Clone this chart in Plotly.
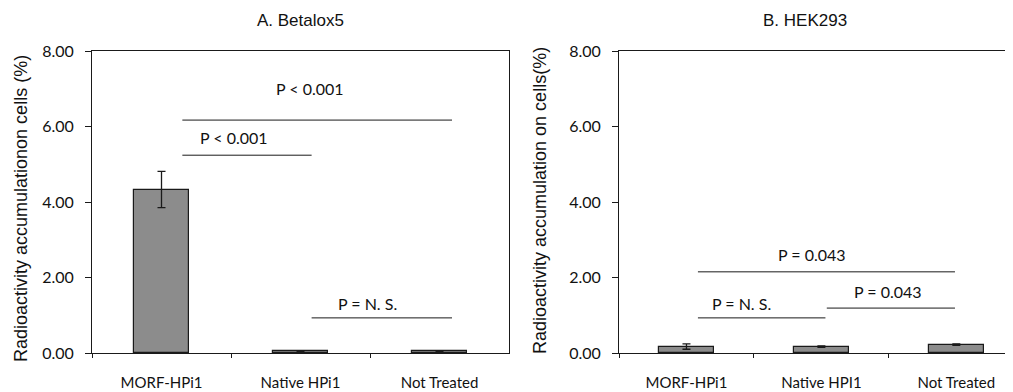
import plotly.graph_objects as go

# ---- data ----
categories_a = ["MORF-HPi1", "Native HPi1", "Not Treated"]
values_a = [4.33, 0.04, 0.04]
errors_a = [0.48, 0.01, 0.01]

categories_b = ["MORF-HPi1", "Native HPI1", "Not Treated"]
values_b = [0.17, 0.17, 0.22]
errors_b = [0.07, 0.02, 0.02]

y_ticks = [0, 2, 4, 6, 8]

# significance brackets: x0, x1 (category index), y, label, label x, label y
brackets_a_x0 = [0.15, 0.15, 1.08]
brackets_a_x1 = [2.09, 1.08, 2.09]
brackets_a_y = [6.17, 5.24, 0.93]
labels_a = ["P < 0.001", "P < 0.001", "P = N. S."]
labels_a_x = [1.07, 0.52, 1.48]
labels_a_y = [7.0, 5.7, 1.32]

brackets_b_x0 = [0.085, 0.085, 1.04]
brackets_b_x1 = [1.99, 1.03, 1.99]
brackets_b_y = [2.15, 0.93, 1.19]
labels_b = ["P = 0.043", "P = N. S.", "P = 0.043"]
labels_b_x = [0.93, 0.41, 1.49]
labels_b_y = [2.6, 1.32, 1.64]

BAR = "#8c8c8c"
LINE = "#1a1a1a"
CAL = "Lato, 'Open Sans', sans-serif"
ARI = "'Liberation Sans', Arial, sans-serif"

# the page body has an 8px margin; size the figure to fill the rest of the window
OFF = 8
W, H = 1013 - OFF, 392 - OFF


def px(x):
    return (x - OFF) / W


def py(y):
    return 1 - (y - OFF) / H


fig = go.Figure()
fig.add_trace(go.Bar(
    x=categories_a, y=values_a, width=0.40,
    marker=dict(color=BAR, line=dict(color=LINE, width=1.2)),
    error_y=dict(type="data", array=errors_a, color=LINE, thickness=1.3, width=4),
    xaxis="x", yaxis="y", showlegend=False,
))
fig.add_trace(go.Bar(
    x=categories_b, y=values_b, width=0.41,
    marker=dict(color=BAR, line=dict(color=LINE, width=1.2)),
    error_y=dict(type="data", array=errors_b, color=LINE, thickness=1.3, width=4),
    xaxis="x2", yaxis="y2", showlegend=False,
))

shapes = []
annotations = []
for x0, x1, y, lab, lx, ly in zip(brackets_a_x0, brackets_a_x1, brackets_a_y, labels_a, labels_a_x, labels_a_y):
    shapes.append(dict(type="line", xref="x", yref="y", x0=x0, x1=x1, y0=y, y1=y,
                       line=dict(color=LINE, width=1)))
    annotations.append(dict(xref="x", yref="y", x=lx, y=ly, text=lab, showarrow=False,
                            font=dict(family=CAL, size=16, color="#111")))
for x0, x1, y, lab, lx, ly in zip(brackets_b_x0, brackets_b_x1, brackets_b_y, labels_b, labels_b_x, labels_b_y):
    shapes.append(dict(type="line", xref="x2", yref="y2", x0=x0, x1=x1, y0=y, y1=y,
                       line=dict(color=LINE, width=1)))
    annotations.append(dict(xref="x2", yref="y2", x=lx, y=ly, text=lab, showarrow=False,
                            font=dict(family=CAL, size=16, color="#111")))

# titles
annotations.append(dict(xref="paper", yref="paper", x=px(300), y=py(20), text="A. Betalox5",
                        showarrow=False, font=dict(family=ARI, size=17, color="#111"),
                        xanchor="center", yanchor="middle"))
annotations.append(dict(xref="paper", yref="paper", x=px(805), y=py(20), text="B. HEK293",
                        showarrow=False, font=dict(family=ARI, size=17, color="#111"),
                        xanchor="center", yanchor="middle"))
annotations.append(dict(xref="paper", yref="paper", x=px(21), y=py(209),
                        text="Radioactivity accumulationon cells (%)", textangle=-90,
                        showarrow=False, font=dict(family=ARI, size=18, color="#111"),
                        xanchor="center", yanchor="middle"))
annotations.append(dict(xref="paper", yref="paper", x=px(540), y=py(201),
                        text="Radioactivity accumulation on cells(%)", textangle=-90,
                        showarrow=False, font=dict(family=ARI, size=18, color="#111"),
                        xanchor="center", yanchor="middle"))

ydom = [py(353), py(51)]
common_y = dict(range=[0, 8], tickvals=y_ticks, tickformat=".2f", ticks="outside", ticklen=6,
                tickcolor=LINE, showline=True, linecolor=LINE, linewidth=1, showgrid=False,
                zeroline=False, tickfont=dict(family=CAL, size=16, color="#111"), domain=ydom,
                ticklabelstandoff=8, automargin=False)
common_x = dict(type="category", tickson="boundaries", ticks="outside", ticklen=4, tickcolor=LINE,
                showline=True, linecolor=LINE, linewidth=1, showgrid=False, mirror=True,
                tickfont=dict(family=CAL, size=15, color="#111"), ticklabelstandoff=16,
                automargin=False)

fig.update_layout(
    width=W, height=H,
    margin=dict(l=0, r=0, t=0, b=0, autoexpand=False),
    plot_bgcolor="white", paper_bgcolor="white",
    bargap=0,
    xaxis=dict(common_x, domain=[px(92), px(509)], range=[-0.5, 2.5], anchor="y"),
    yaxis=dict(common_y, mirror=True, anchor="x"),
    xaxis2=dict(common_x, domain=[px(619), 1.0], range=[-0.5, 2.42], anchor="y2"),
    yaxis2=dict(common_y, mirror=False, anchor="x2"),
    shapes=shapes,
    annotations=annotations,
)

fig.write_html("out.html")
